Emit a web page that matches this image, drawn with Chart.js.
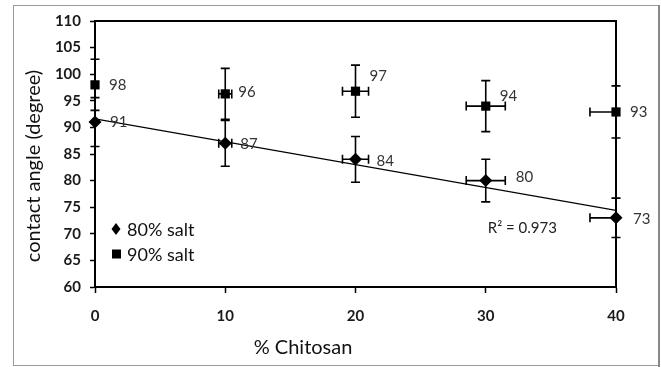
<!DOCTYPE html>
<html>
<head>
<meta charset="utf-8">
<script src="https://cdn.jsdelivr.net/npm/chart.js@4.4.1/dist/chart.umd.min.js"></script>
<style>
  html, body { margin: 0; padding: 0; background: #fff; }
  #wrap { width: 661px; height: 367px; position: relative; }
</style>
</head>
<body>
<div id="wrap"><canvas id="chart" width="661" height="367"></canvas></div>
<script>
// chitosan content (%)
const chitosan = [0, 10, 20, 30, 40];

// contact angle, degrees
const salt80 = [91, 87, 84, 80, 73];
const salt90 = [98, 96.3, 96.8, 94, 92.9];

// error bars (+/-)
const salt80ErrY = [4.6, 4.3, 4.3, 4.0, 3.7];
const salt90ErrY = [4.8, 4.8, 4.9, 4.8, 4.9];
const salt80ErrX = [0, 0.5, 1.0, 1.5, 2.0];
const salt90ErrX = [0, 0.5, 1.0, 1.5, 2.0];

const seriesNames = ["80% salt", "90% salt"];
const yTicks = [60, 65, 70, 75, 80, 85, 90, 95, 100, 105, 110];
const xTicks = [0, 10, 20, 30, 40];
const xTitle = "% Chitosan";
const yTitle = "contact angle (degree)";

// linear fit for the 80% salt series
function linFit(xs, ys) {
  const n = xs.length;
  const mx = xs.reduce((a, b) => a + b, 0) / n;
  const my = ys.reduce((a, b) => a + b, 0) / n;
  let sxy = 0, sxx = 0, syy = 0;
  for (let i = 0; i < n; i++) {
    sxy += (xs[i] - mx) * (ys[i] - my);
    sxx += (xs[i] - mx) ** 2;
    syy += (ys[i] - my) ** 2;
  }
  const slope = sxy / sxx;
  const icpt = my - slope * mx;
  let ssr = 0;
  for (let i = 0; i < n; i++) ssr += (ys[i] - (icpt + slope * xs[i])) ** 2;
  return { slope, icpt, r2: 1 - ssr / syy };
}
const fit = linFit(chitosan, salt80);
const xMin = chitosan[0], xMax = chitosan[chitosan.length - 1];

const FONT = "Lato, 'Open Sans', sans-serif";

// label offsets (px) next to each marker
const labelOffsets = [
  [[15, 0], [15, 1], [21, 2], [30, -3], [17, 1]],
  [[14, 0], [13, -2], [14, -15], [14, -10], [14, 0]]
];

const pts = (ys) => chitosan.map((x, i) => ({ x: x, y: ys[i] }));

const extras = {
  id: "extras",
  beforeDraw(chart) {
    const c = chart.ctx;
    c.save();
    c.fillStyle = "#fff";
    c.fillRect(0, 0, chart.width, chart.height);
    c.strokeStyle = "#9a9a9a";
    c.lineWidth = 1;
    c.strokeRect(13.5, 5.5, 645, 360);
    c.strokeStyle = "#888";
    c.lineWidth = 2;
    c.beginPath(); c.moveTo(659, 5); c.lineTo(659, 367); c.stroke();
    c.restore();
  },
  beforeDatasetsDraw(chart) {
    const c = chart.ctx, xs = chart.scales.x, ys = chart.scales.y;
    const errs = [[salt80, salt80ErrX, salt80ErrY], [salt90, salt90ErrX, salt90ErrY]];
    c.save();
    c.strokeStyle = "#000";
    c.lineWidth = 1.6;
    const cap = 4.5;
    errs.forEach(([vals, ex, ey]) => {
      vals.forEach((v, i) => {
        const px = xs.getPixelForValue(chitosan[i]);
        const py = ys.getPixelForValue(v);
        c.beginPath();
        if (ey[i] > 0) {
          const t = ys.getPixelForValue(v + ey[i]), b = ys.getPixelForValue(v - ey[i]);
          c.moveTo(px, t); c.lineTo(px, b);
          c.moveTo(px - cap, t); c.lineTo(px + cap, t);
          c.moveTo(px - cap, b); c.lineTo(px + cap, b);
        }
        if (ex[i] > 0) {
          const lv = chitosan[i] - ex[i], rv = chitosan[i] + ex[i];
          const l = xs.getPixelForValue(Math.max(lv, xMin)), r = xs.getPixelForValue(Math.min(rv, xMax));
          c.moveTo(l, py); c.lineTo(r, py);
          if (lv >= xMin) { c.moveTo(l, py - cap); c.lineTo(l, py + cap); }
          if (rv <= xMax) { c.moveTo(r, py - cap); c.lineTo(r, py + cap); }
        }
        c.stroke();
      });
    });
    c.restore();
  },
  afterDatasetsDraw(chart) {
    const c = chart.ctx, xs = chart.scales.x, ys = chart.scales.y, a = chart.chartArea;
    c.save();
    // plot frame (top and right)
    c.strokeStyle = "#000";
    c.lineWidth = 2;
    c.strokeRect(a.left, a.top, a.right - a.left, a.bottom - a.top);

    // data labels
    c.fillStyle = "#333";
    c.font = "15px " + FONT;
    c.textAlign = "left";
    c.textBaseline = "middle";
    [salt80, salt90].forEach((vals, s) => {
      vals.forEach((v, i) => {
        const px = xs.getPixelForValue(chitosan[i]);
        const py = ys.getPixelForValue(v);
        const o = labelOffsets[s][i];
        c.fillText(String(Math.round(v)), px + o[0], py + o[1]);
      });
    });

    // R² label
    c.fillStyle = "#222";
    c.font = "15px " + FONT;
    c.fillText("R\u00B2 = " + fit.r2.toFixed(3), xs.getPixelForValue(30) + 2, ys.getPixelForValue(71.1));

    // legend inside plot
    const ds = chart.data.datasets;
    c.font = "18px " + FONT;
    [0, 1].forEach((k) => {
      const lx = a.left + 21, ly = a.top + 208 + k * 25;
      c.fillStyle = "#000";
      c.beginPath();
      if (ds[k].pointStyle === "rectRot") {
        c.moveTo(lx, ly - 6); c.lineTo(lx + 4.5, ly); c.lineTo(lx, ly + 6); c.lineTo(lx - 4.5, ly);
      } else {
        c.rect(lx - 4, ly - 4.5, 9, 9);
      }
      c.closePath(); c.fill();
      c.fillStyle = "#111";
      c.fillText(ds[k].label, lx + 11, ly + 1);
    });

    // axis titles
    c.fillStyle = "#111";
    c.font = "20px " + FONT;
    c.textAlign = "center";
    c.fillText(xTitle, 303, 348);
    c.translate(34, 166);
    c.rotate(-Math.PI / 2);
    c.font = "20px " + FONT;
    c.fillText(yTitle, 0, 0);
    c.restore();
  }
};

new Chart(document.getElementById("chart"), {
  type: "scatter",
  data: {
    datasets: [
      {
        label: seriesNames[0],
        data: pts(salt80),
        pointStyle: "rectRot",
        pointRadius: 6.5,
        backgroundColor: "#000",
        borderColor: "#000",
        borderWidth: 0,
        clip: false
      },
      {
        label: seriesNames[1],
        data: pts(salt90),
        pointStyle: "rect",
        pointRadius: 6.5,
        backgroundColor: "#000",
        borderColor: "#000",
        borderWidth: 0,
        clip: false
      },
      {
        label: "trend",
        type: "line",
        data: [
          { x: xMin, y: fit.icpt + fit.slope * xMin },
          { x: xMax, y: fit.icpt + fit.slope * xMax }
        ],
        borderColor: "#000",
        borderWidth: 1.2,
        pointRadius: 0,
        fill: false
      }
    ]
  },
  options: {
    responsive: false,
    animation: false,
    layout: { padding: { left: 0, top: 21, right: 45, bottom: 0 } },
    plugins: { legend: { display: false }, tooltip: { enabled: false } },
    scales: {
      x: {
        type: "linear",
        min: 0, max: 40,
        afterFit: (s) => { s.height = 80; },
        afterBuildTicks: (s) => { s.ticks = xTicks.map(v => ({ value: v })); },
        border: { color: "#000", width: 2 },
        grid: { display: true, drawOnChartArea: false, drawTicks: true, tickLength: 6, color: "#000", tickWidth: 1.5 },
        ticks: { padding: 14, color: "#1a1a1a", font: { family: FONT, size: 15, weight: "bold" } },
        title: { display: false }
      },
      y: {
        min: 60, max: 110,
        afterFit: (s) => { s.width = 95; },
        afterBuildTicks: (s) => { s.ticks = yTicks.map(v => ({ value: v })); },
        border: { color: "#000", width: 2 },
        grid: { display: true, drawOnChartArea: false, drawTicks: true, tickLength: 5, color: "#000", tickWidth: 1.5 },
        ticks: { padding: 9, color: "#1a1a1a", font: { family: FONT, size: 15, weight: "bold" } },
        title: { display: false }
      }
    }
  },
  plugins: [extras]
});
</script>
</body>
</html>
